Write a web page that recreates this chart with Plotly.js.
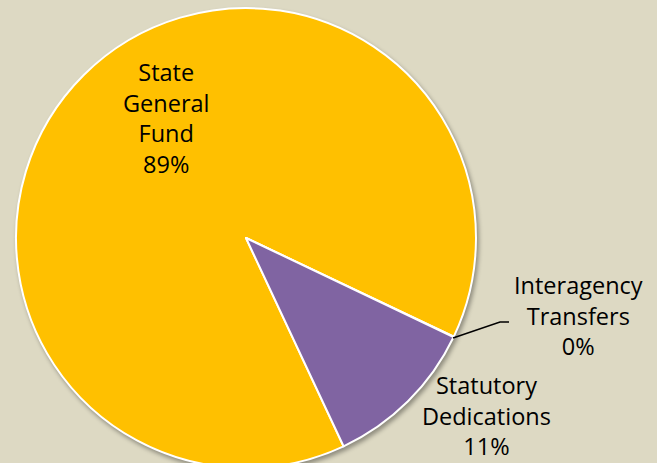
<!DOCTYPE html>
<html>
<head>
<meta charset="utf-8">
<script src="https://cdn.plot.ly/plotly-3.0.1.min.js"></script>
<style>
  html, body { margin: 0; padding: 0; background: #DDD9C3; overflow: hidden; width: 657px; height: 463px; }
  #chart { width: 657px; height: 480px; }
  .pielayer { filter: drop-shadow(2px 3px 2px rgba(0,0,0,0.35)); }
</style>
</head>
<body>
<div id="chart"></div>
<script>
// Data
const labels = ["State General Fund", "Interagency Transfers", "Statutory Dedications"];
const values = [89.02, 0.05, 10.93];
const labelLines = [["State", "General", "Fund"], ["Interagency", "Transfers"], ["Statutory", "Dedications"]];
const pctText = ["89%", "0%", "11%"];
const colors = ["#FFC000", "#8064A2", "#8064A2"];

const W = 657, H = 480;
const px = x => x / W;
const py = y => 1 - y / H;

const trace = {
  type: "pie",
  labels: labels,
  values: values,
  sort: false,
  direction: "clockwise",
  rotation: 154.9,
  textinfo: "none",
  hoverinfo: "label+percent",
  marker: { colors: colors, line: { color: "#FFFFFF", width: 2 } },
  domain: { x: [px(16), px(476)], y: [py(468), py(8)] },
  showlegend: false
};

// label placement (layout only)
const labelPos = [[166, 118], [578, 315], [486, 415]];
const annotations = labels.map((l, i) => ({
  xref: "paper", yref: "paper",
  x: px(labelPos[i][0]), y: py(labelPos[i][1]),
  xanchor: "center", yanchor: "middle",
  text: labelLines[i].concat([pctText[i]]).join("<br>"),
  showarrow: false,
  font: { family: "Open Sans, sans-serif", size: 23.5, color: "#000000" }
}));

const layout = {
  width: W, height: H,
  margin: { l: 0, r: 0, t: 0, b: 0 },
  paper_bgcolor: "#DDD9C3",
  plot_bgcolor: "#DDD9C3",
  annotations: annotations,
  shapes: [{
    type: "path", xref: "paper", yref: "paper",
    path: `M ${px(453)} ${py(338)} L ${px(500)} ${py(322)} L ${px(509)} ${py(322)}`,
    line: { color: "#000000", width: 1.5 }
  }]
};

Plotly.newPlot("chart", [trace], layout, { displayModeBar: false, staticPlot: true });
</script>
</body>
</html>
